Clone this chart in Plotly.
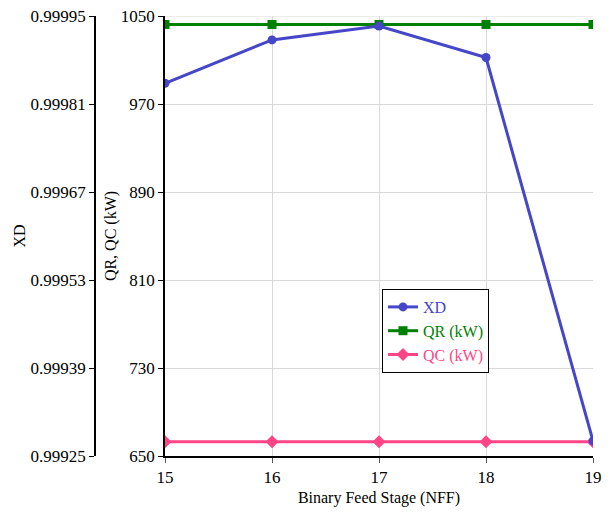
import plotly.graph_objects as go

stages = [15, 16, 17, 18, 19]
xd = [0.999843, 0.999912, 0.999934, 0.999884, 0.999274]
qr = [1042.3, 1042.3, 1042.3, 1042.3, 1042.3]
qc = [663, 663, 663, 663, 663]

BLUE = "#4646c8"
GREEN = "#008000"
PINK = "#ff4585"
FONT = "Liberation Serif, DejaVu Serif, serif"

fig = go.Figure()
fig.add_trace(go.Scatter(x=stages, y=xd, yaxis="y2", mode="lines+markers",
                         name=f"<span style='color:{BLUE}'>XD</span>",
                         line=dict(color=BLUE, width=3), marker=dict(symbol="circle", size=9, color=BLUE)))
fig.add_trace(go.Scatter(x=stages, y=qr, mode="lines+markers",
                         name=f"<span style='color:{GREEN}'>QR (kW)</span>",
                         line=dict(color=GREEN, width=3), marker=dict(symbol="square", size=9, color=GREEN)))
fig.add_trace(go.Scatter(x=stages, y=qc, mode="lines+markers",
                         name=f"<span style='color:{PINK}'>QC (kW)</span>",
                         line=dict(color=PINK, width=3), marker=dict(symbol="diamond", size=10, color=PINK)))

fig.update_layout(
    width=614, height=512,
    margin=dict(l=0, r=0, t=16, b=56),
    paper_bgcolor="white", plot_bgcolor="white",
    font=dict(family=FONT, size=17, color="black"),
    xaxis=dict(domain=[165/614, 593/614], range=[15, 19], dtick=1, tick0=15,
               automargin=False,
               showgrid=True, gridcolor="#d9d9d9", gridwidth=1,
               showline=True, linecolor="black", linewidth=1.5,
               ticks="outside", ticklen=5, tickcolor="#555",
               title=dict(text="Binary Feed Stage (NFF)", font=dict(size=16), standoff=6),
               zeroline=False),
    yaxis=dict(range=[650, 1050], dtick=80, tick0=650, automargin=False,
               showgrid=True, gridcolor="#d9d9d9", gridwidth=1,
               showline=True, linecolor="black", linewidth=1.5,
               ticks="outside", ticklen=5, tickcolor="black",
               title=dict(text="QR, QC (kW)", font=dict(size=16), standoff=0),
               zeroline=False),
    yaxis2=dict(overlaying="y", side="left", anchor="free", position=95/614,
                automargin=False,
                range=[0.99925, 0.99995], dtick=0.00014, tick0=0.99925, tickformat=".5f",
                showgrid=False, showline=True, linecolor="black", linewidth=1.5,
                ticks="outside", ticklen=5, tickcolor="black",
                title=dict(text="XD", font=dict(size=16), standoff=0),
                zeroline=False),
    legend=dict(x=382/614, y=(456-289)/440, xanchor="left", yanchor="top",
                bgcolor="white", bordercolor="black", borderwidth=1,
                font=dict(size=16), tracegroupgap=2),
    showlegend=True,
)
fig.add_shape(type="line", xref="paper", yref="y", x0=165/614, x1=593/614, y0=1050, y1=1050,
              line=dict(color="#d9d9d9", width=1), layer="below")

fig.write_html("out.html")
